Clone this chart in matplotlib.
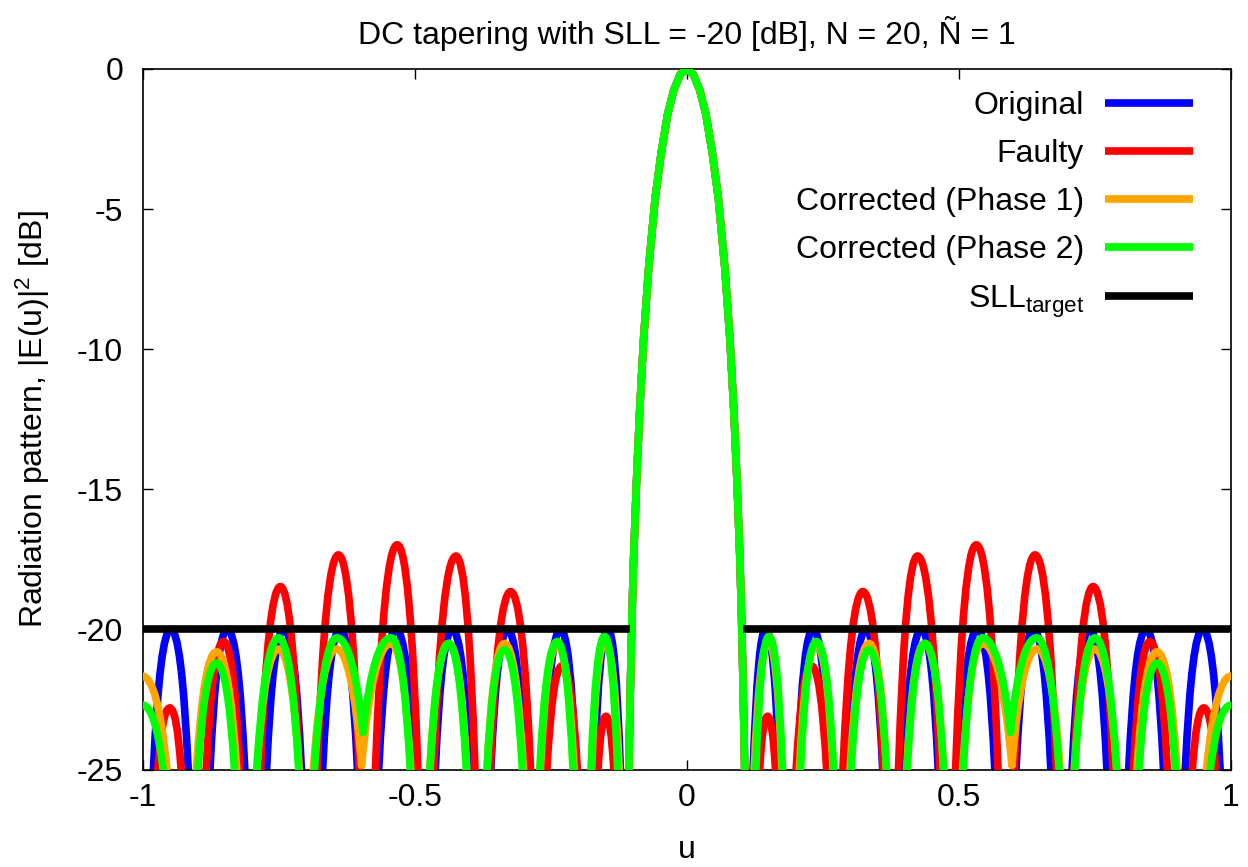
import matplotlib
matplotlib.use('Agg')
import matplotlib.pyplot as plt
from matplotlib.path import Path
from matplotlib.patches import PathPatch
from matplotlib.lines import Line2D

plt.rcParams['font.family'] = ['Liberation Sans', 'DejaVu Sans']
plt.rcParams['mathtext.fontset'] = 'custom'
plt.rcParams['mathtext.rm'] = 'Liberation Sans'
plt.rcParams['mathtext.it'] = 'Liberation Sans:italic'
plt.rcParams['axes.unicode_minus'] = False

# all patterns are symmetric in u, so only the right half (u >= 0) is listed

# main lobe, shared by all four patterns
main_u = [0.0, 0.012, 0.024, 0.035, 0.047, 0.058, 0.070, 0.0795, 0.0865, 0.0925, 0.0975, 0.1005, 0.1035, 0.1065]
main_db = [0.0, -0.19, -0.76, -1.6, -3.0, -4.6, -7.1, -9.7, -12.2, -14.8, -17.4, -19.4, -22.0, -25.0]

# side lobes: peak position / level, and where each lobe leaves the plot
# (bottom at -25 dB, or the shallow dip it shares with the next lobe)
orig_peak_u = [0.145, 0.232, 0.329, 0.431, 0.534, 0.637, 0.740, 0.844, 0.948]
orig_peak_db = [-20.0, -20.0, -20.0, -20.0, -20.0, -20.0, -20.0, -20.0, -20.0]
orig_left_u = [0.122, 0.2035, 0.299, 0.399, 0.501, 0.605, 0.708, 0.812, 0.916]
orig_right_u = [0.170, 0.262, 0.360, 0.462, 0.566, 0.669, 0.772, 0.876, 0.980]
orig_left_db = [-25, -25, -25, -25, -25, -25, -25, -25, -25]
orig_right_db = [-25, -25, -25, -25, -25, -25, -25, -25, -25]

fault_peak_u = [0.1485, 0.229, 0.3236, 0.424, 0.532, 0.640, 0.7466, 0.851, 0.950]
fault_peak_db = [-23.1, -21.3, -18.65, -17.38, -16.98, -17.34, -18.47, -20.43, -22.8]
fault_left_u = [0.134, 0.201, 0.287, 0.389, 0.494, 0.602, 0.712, 0.821, 0.929]
fault_right_u = [0.163, 0.257, 0.361, 0.465, 0.572, 0.679, 0.783, 0.883, 0.972]
fault_left_db = [-25, -25, -25, -25, -25, -25, -25, -25, -25]
fault_right_db = [-25, -25, -25, -25, -25, -25, -25, -25, -25]

ph1_peak_u = [0.150, 0.238, 0.335, 0.437, 0.543, 0.644, 0.750, 0.864, 1.0]
ph1_peak_db = [-20.45, -20.55, -20.5, -20.5, -20.5, -20.7, -20.7, -20.8, -21.67]
ph1_left_u = [0.124, 0.207, 0.300, 0.404, 0.507, 0.5975, 0.712, 0.827, 0.955]
ph1_right_u = [0.175, 0.269, 0.367, 0.472, 0.5975, 0.686, 0.790, 0.901, 1.045]
ph1_left_db = [-25, -25, -25, -25, -25, -24.85, -25, -25, -25]
ph1_right_db = [-25, -25, -25, -25, -24.85, -25, -25, -25, -25]

ph2_peak_u = [0.151, 0.238, 0.335, 0.438, 0.543, 0.643, 0.750, 0.864, 1.0]
ph2_peak_db = [-20.25, -20.43, -20.72, -20.5, -20.3, -20.3, -20.3, -21.2, -22.7]
ph2_left_u = [0.127, 0.209, 0.302, 0.405, 0.508, 0.595, 0.713, 0.831, 0.962]
ph2_right_u = [0.176, 0.270, 0.367, 0.472, 0.595, 0.684, 0.790, 0.898, 1.038]
ph2_left_db = [-25, -25, -25, -25, -25, -23.67, -25, -25, -25]
ph2_right_db = [-25, -25, -25, -25, -23.67, -25, -25, -25, -25]

sll_u = [0.104, 1.0]
sll_db = [-20.0, -20.0]

labels = ['Original', 'Faulty', 'Corrected (Phase 1)', 'Corrected (Phase 2)', r'SLL$_{\mathrm{target}}$']
colors = ['#0000ff', '#ff0000', '#ffa500', '#00ff00', '#000000']
LW = 5.5


def lobes_path(pu, pdb, lu, ru, ldb, rdb, k=0.38):
    # every half lobe is a quadratic bezier that ends flat on the peak
    verts, codes = [], []
    for side in (1, -1):
        for i in range(len(pu)):
            if side == 1:
                a, b, ya, yb = lu[i], ru[i], ldb[i], rdb[i]
            else:
                a, b, ya, yb = -ru[i], -lu[i], rdb[i], ldb[i]
            p = side * pu[i]
            verts += [(a, ya), (a + k * (p - a), pdb[i]), (p, pdb[i]),
                      (b - k * (b - p), pdb[i]), (b, yb)]
            codes += [Path.MOVETO, Path.CURVE3, Path.CURVE3, Path.CURVE3, Path.CURVE3]
    return Path(verts, codes)


fig = plt.figure(figsize=(12.48, 8.67), dpi=100)
ax = fig.add_axes([142.5 / 1248, 1 - 769.5 / 867, 1088.5 / 1248, 700.5 / 867])

series = [
    (orig_peak_u, orig_peak_db, orig_left_u, orig_right_u, orig_left_db, orig_right_db),
    (fault_peak_u, fault_peak_db, fault_left_u, fault_right_u, fault_left_db, fault_right_db),
    (ph1_peak_u, ph1_peak_db, ph1_left_u, ph1_right_u, ph1_left_db, ph1_right_db),
    (ph2_peak_u, ph2_peak_db, ph2_left_u, ph2_right_u, ph2_left_db, ph2_right_db),
]

full_main_u = [-u for u in main_u[::-1]] + main_u[1:]
full_main_db = main_db[::-1] + main_db[1:]

for n, s in enumerate(series):
    ax.plot(full_main_u, full_main_db, color=colors[n], lw=LW, solid_joinstyle='round', zorder=2 + n)
    patch = PathPatch(lobes_path(*s), fill=False, edgecolor=colors[n], lw=LW,
                      capstyle='round', joinstyle='round', zorder=2 + n)
    ax.add_patch(patch)

ax.plot(sll_u, sll_db, color='k', lw=LW, solid_capstyle='butt', zorder=7)
ax.plot([-u for u in sll_u], sll_db, color='k', lw=LW, solid_capstyle='butt', zorder=7)

ax.set_xlim(-1, 1)
ax.set_ylim(-25, 0)
ax.set_xticks([-1, -0.5, 0, 0.5, 1])
ax.set_xticklabels(['-1', '-0.5', '0', '0.5', '1'])
ax.set_yticks([-25, -20, -15, -10, -5, 0])
ax.set_yticklabels(['-25', '-20', '-15', '-10', '-5', '0'])
ax.tick_params(direction='in', length=7.2, width=1.0, top=True, right=True, labelsize=23)
ax.tick_params(axis='x', pad=9.5)
ax.tick_params(axis='y', pad=14)
for sp in ax.spines.values():
    sp.set_linewidth(1.2)

ax.set_title('DC tapering with SLL = -20 [dB], N = 20, Ñ = 1', fontsize=23, pad=18)
ax.set_xlabel('u', fontsize=23, labelpad=16)
ax.set_ylabel(r'Radiation pattern, |E(u)|$^2$ [dB]', fontsize=23, labelpad=18)

handles = [Line2D([], [], color=c, lw=LW, solid_capstyle='butt') for c in colors]
ax.legend(handles, labels, loc='upper right', bbox_to_anchor=(0.965, 0.969),
          markerfirst=False, frameon=False, fontsize=23, handlelength=2.75,
          handletextpad=0.66, labelspacing=0.57, borderaxespad=0, borderpad=0)

fig.savefig('out.png', dpi=100)
